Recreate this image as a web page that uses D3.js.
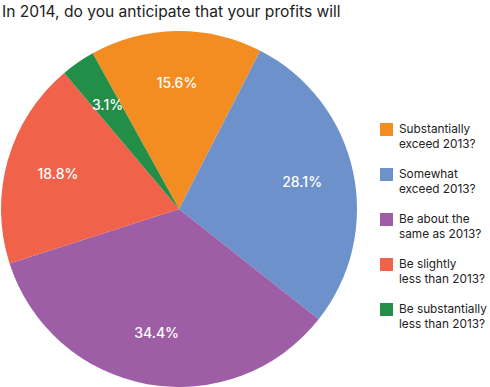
<!DOCTYPE html>
<html>
<head>
<meta charset="utf-8">
<script src="https://cdn.jsdelivr.net/npm/d3@7"></script>
<style>
  body { margin: 0; background: #fff; }
  svg { display: block; font-family: "Inter", "Noto Sans", sans-serif; }
</style>
</head>
<body>
<div class="container"></div>
<script>
const title = "In 2014, do you anticipate that your profits will";
const categories = [
  ["Substantially", "exceed 2013?"],
  ["Somewhat", "exceed 2013?"],
  ["Be about the", "same as 2013?"],
  ["Be slightly", "less than 2013?"],
  ["Be substantially", "less than 2013?"]
];
const values = [15.6, 28.1, 34.4, 18.8, 3.1];
const colors = ["#F48D21", "#6D91CA", "#9E5EA6", "#F0624A", "#238E47"];

const width = 490, height = 387;
const cx = 179, cy = 209, radius = 178;

const svg = d3.select(".container")
  .append("svg")
  .attr("width", width)
  .attr("height", height);

svg.append("text")
  .attr("x", 2)
  .attr("y", 17)
  .attr("font-size", 15.6)
  .attr("fill", "#222")
  .text(title);

// pie starts a bit left of 12 o'clock
const start = -29 * Math.PI / 180;
const pie = d3.pie().sort(null)
  .startAngle(start)
  .endAngle(start + 2 * Math.PI);

const arcs = pie(values);
const arc = d3.arc().innerRadius(0).outerRadius(radius);
const labelArc = d3.arc().innerRadius(126).outerRadius(126);

const g = svg.append("g").attr("transform", `translate(${cx}, ${cy})`);

g.selectAll("path")
  .data(arcs)
  .enter().append("path")
  .attr("d", arc)
  .attr("fill", (d, i) => colors[i]);

g.selectAll(".lbl")
  .data(arcs)
  .enter().append("text")
  .attr("class", "lbl")
  .attr("transform", d => `translate(${labelArc.centroid(d)})`)
  .attr("text-anchor", "middle")
  .attr("dy", "0.35em")
  .attr("font-size", 14)
  .attr("font-weight", 500)
  .attr("fill", "#fff")
  .text(d => d.data.toFixed(1) + "%");

// legend
const legend = svg.append("g").attr("transform", "translate(380, 123)");
const item = legend.selectAll(".item")
  .data(categories)
  .enter().append("g")
  .attr("class", "item")
  .attr("transform", (d, i) => `translate(0, ${i * 45})`);

item.append("rect")
  .attr("width", 13)
  .attr("height", 13)
  .attr("fill", (d, i) => colors[i]);

item.append("text")
  .attr("x", 19)
  .attr("y", 10)
  .attr("font-size", 11.8)
  .attr("fill", "#222")
  .selectAll("tspan")
  .data(d => d)
  .enter().append("tspan")
  .attr("x", 19)
  .attr("dy", (d, i) => i === 0 ? 0 : 15)
  .text(d => d);
</script>
</body>
</html>
